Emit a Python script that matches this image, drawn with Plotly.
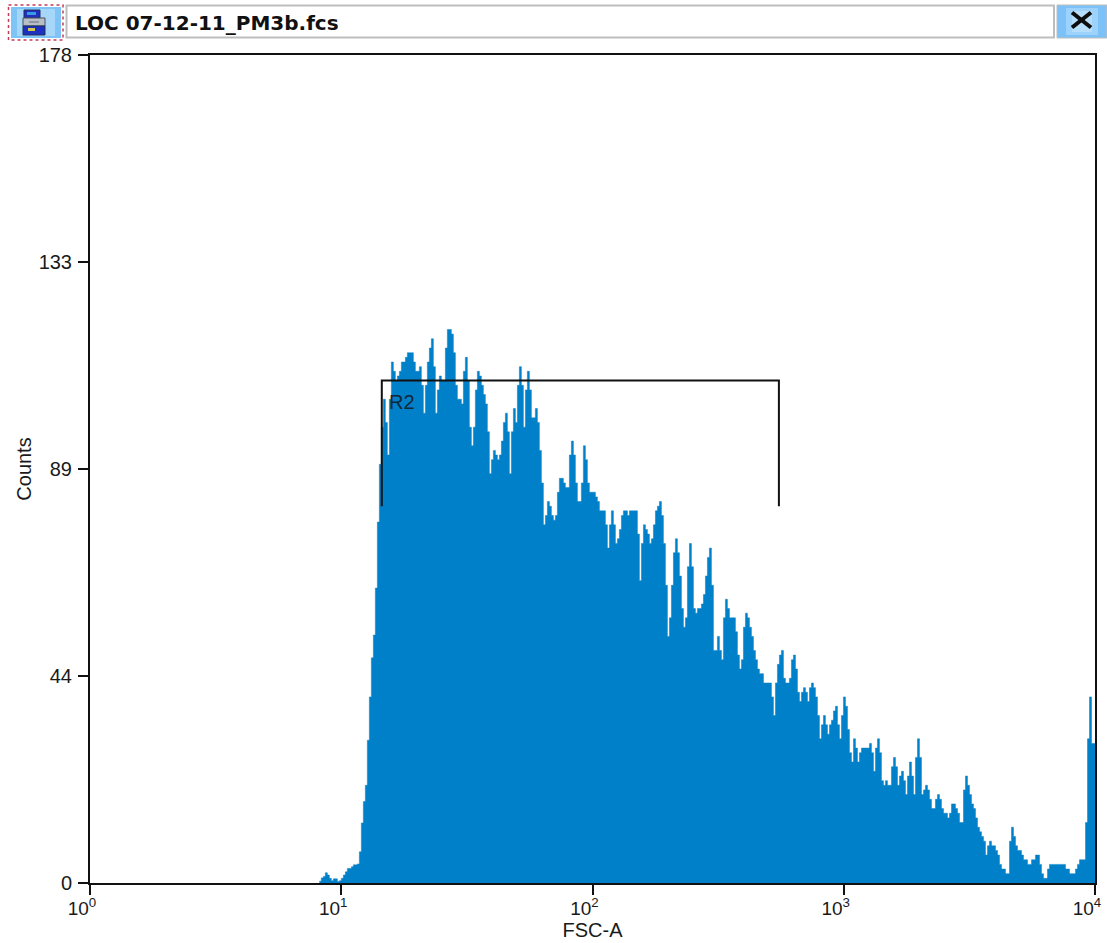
import plotly.graph_objects as go

# Histogram counts, left to right, one value per channel
counts_rise = [0.4, 1.1, 1.4, 2.2, 1.7, 1, 0.5, 0.9, 0.9, 0.3, 0.5, 1, 1.7, 2.4, 3.1, 3.1, 3.5, 3.9, 3.9, 4.1,
               6.7, 12.9, 17.5, 21, 30.7, 40, 48.4, 53.3, 63.4, 77.6]
counts_peak = [90, 98, 104, 99, 92, 104, 112, 110, 108, 109, 110, 112, 112, 113, 114, 114, 114, 112, 110, 110, 111,
               107, 101, 107, 112, 115, 117, 111, 101, 106, 109, 108, 108, 115, 119, 119, 118, 114, 107, 104, 104,
               103, 110, 113, 108, 98, 94, 98, 106, 110, 109, 107, 105, 103, 97, 88, 91, 93, 92, 91, 92,
               95, 99, 101, 97, 88, 97, 102, 99, 107, 111, 107, 98, 106, 110, 106, 100, 100, 102, 99, 93,
               86, 77, 79, 82, 81, 79, 78, 79, 84, 87, 87, 86, 85, 85, 92, 95, 92, 86, 82, 82,
               86, 94, 91, 86, 84, 84, 84, 83, 82, 80, 80, 80, 77]
counts_mid = [72, 77, 80, 77, 73, 74, 76, 79, 80, 80, 79, 80, 80, 80, 80, 75, 65, 73, 77, 76,
              75, 73, 74, 77, 80, 81, 82, 79, 73, 64, 53, 57, 64, 71, 74, 71, 66, 59, 55, 57,
              68, 73, 68, 59, 58, 59, 59, 60, 62, 66, 70, 72, 64, 50, 50, 53, 50, 48, 57, 61,
              59, 57, 57, 57, 54, 49, 46, 48, 55, 58, 57, 55, 53, 50, 48, 46, 45, 45, 43, 43,
              43, 43, 40, 36, 43, 47, 49, 50, 44, 43, 43, 44, 48, 49, 46, 41, 39, 41, 42, 41,
              39, 42, 43, 42, 40, 36, 31, 34, 36, 34, 32, 34, 35, 37, 38, 34, 31, 36, 40, 38]
counts_tail = [33, 28, 26, 31, 29, 26, 28, 29, 29, 29, 29, 30, 28, 24, 29, 31, 28, 22, 21, 22,
               21, 21, 25, 27, 25, 21, 23, 24, 22, 19, 23, 26, 23, 19, 27, 31, 27, 19, 20, 21,
               20, 18, 16, 16, 18, 19, 18, 16, 15, 15, 14, 15, 17, 17, 16, 15, 13, 13, 20, 23,
               21, 19, 17, 16, 14, 12, 11, 10, 9, 6, 8, 9, 8, 8, 7, 6, 4, 3, 3, 2,
               2, 9, 12, 10, 8, 7, 7, 6, 5, 5, 4, 4, 5, 5, 6, 6, 4, 2, 1, 1,
               3, 4, 4, 4, 4, 4, 4, 4, 4, 3, 3, 2, 2, 2, 3, 4, 5, 5, 5, 13,
               31, 40, 30, 30]
counts = counts_rise + counts_peak + counts_mid + counts_tail

first_channel_log = 0.9128   # log10 of FSC-A at the left edge of the first channel
channels_per_decade = 125.6

y_ticks = [0, 44.5, 89, 133.5, 178]
y_labels = ["0", "44", "89", "133", "178"]
x_ticks = [1, 10, 100, 1000, 10000]
x_labels = ["10<sup>0</sup>", "10<sup>1</sup>", "10<sup>2</sup>", "10<sup>3</sup>", "10<sup>4</sup>"]

# Region R2 marker
gate_x = [14.5, 14.5, 552, 552]
gate_y = [81, 108, 108, 81]

file_name = "LOC 07-12-11_PM3b.fcs"

FONT = "Liberation Sans"
TEXT = "#1a1a1a"
BLUE = "#0080C9"

WIDTH, HEIGHT = 1107, 943
LEFT, RIGHT, TOP, BOTTOM = 90, 1095, 55, 883


def px(x):
    return (x - LEFT) / (RIGHT - LEFT)


def py(y):
    return (BOTTOM - y) / (BOTTOM - TOP)


def box(x0, y0, x1, y1, fill=None, line=None, width=0, dash=None):
    # window chrome above the plot, given in page pixels
    return dict(type="rect", xref="paper", yref="paper", x0=px(x0), x1=px(x1), y0=py(y0), y1=py(y1),
                fillcolor=fill or "rgba(0,0,0,0)",
                line=dict(color=line or "rgba(0,0,0,0)", width=width, dash=dash or "solid"))


def stroke(x0, y0, x1, y1, color, width):
    return dict(type="line", xref="paper", yref="paper", x0=px(x0), x1=px(x1), y0=py(y0), y1=py(y1),
                line=dict(color=color, width=width))


edges = [10 ** (first_channel_log + i / channels_per_decade) for i in range(len(counts) + 1)]

fig = go.Figure()

fig.add_trace(go.Scatter(
    x=edges,
    y=counts + [counts[-1]],
    mode="lines",
    line=dict(color=BLUE, width=0.5, shape="hv"),
    fill="tozeroy",
    fillcolor=BLUE,
    hoverinfo="skip",
))

fig.add_trace(go.Scatter(
    x=gate_x,
    y=gate_y,
    mode="lines",
    line=dict(color="#111111", width=2),
    hoverinfo="skip",
))

shapes = [
    # save button
    box(8.5, 5, 63, 40, fill="#FFFFFF", line="#C23B5A", width=1.5, dash="dot"),
    box(11, 7, 61, 38, fill="#7FC4F7"),
    box(17, 9, 55, 36, fill="#A6D7F9"),
    box(24, 10, 40, 18, fill="#1F2FC0", line="#20305A", width=1),
    box(27, 12, 36, 15, fill="#3A9BE0"),
    box(23, 18, 45, 26, fill="#B9BEC6", line="#4A5060", width=1),
    box(29, 21, 39, 23, fill="#8D95A3"),
    box(23, 26, 45, 35, fill="#1F2FC0", line="#20305A", width=1),
    box(28, 28, 35, 31, fill="#D6C84A"),
    # file name box
    box(66.5, 5.5, 1054, 37.5, fill="#FFFFFF", line="#BDBDBD", width=2),
    # close button
    box(1057, 5, 1107, 38, fill="#7CC2F8", line="#BDBDBD", width=1),
    box(1066, 8, 1098, 35, fill="#9DD2FA"),
    box(1072, 11, 1092, 32, fill="#B6DEFB"),
    stroke(1072, 12.5, 1091, 27.5, "#0D0D0D", 4),
    stroke(1091, 12.5, 1072, 27.5, "#0D0D0D", 4),
]

annotations = [
    dict(text=file_name, xref="paper", yref="paper", x=px(73), y=py(23), xanchor="left", yanchor="middle",
         showarrow=False, font=dict(family="DejaVu Sans", size=20, color="#111111", weight="bold")),
    dict(text="R2", xref="x", yref="y", x=1.182, y=103.4, xanchor="left", yanchor="middle",
         showarrow=False, font=dict(family=FONT, size=20, color="#10283A")),
]

fig.update_layout(
    width=WIDTH,
    height=HEIGHT,
    autosize=False,
    margin=dict(l=LEFT, r=WIDTH - RIGHT, t=TOP, b=HEIGHT - BOTTOM, pad=0),
    paper_bgcolor="white",
    plot_bgcolor="white",
    showlegend=False,
    font=dict(family=FONT, size=20, color=TEXT),
    shapes=shapes,
    annotations=annotations,
)

fig.update_xaxes(
    type="log",
    range=[0, 4],
    automargin=False,
    tickmode="array",
    tickvals=x_ticks,
    ticktext=x_labels,
    ticks="outside",
    ticklen=10,
    tickwidth=1.5,
    tickcolor="#111111",
    tickfont=dict(size=19),
    ticklabelstandoff=-3,
    ticklabelshift=-8,
    ticklabeloverflow="allow",
    showgrid=False,
    zeroline=False,
    showline=True,
    linecolor="#111111",
    linewidth=2,
    mirror=True,
    title=dict(text="FSC-A", standoff=0, font=dict(family=FONT, size=20, color=TEXT)),
)
fig.update_yaxes(
    range=[0, 178],
    automargin=False,
    tickmode="array",
    tickvals=y_ticks,
    ticktext=y_labels,
    ticks="outside",
    ticklen=10,
    tickwidth=1.5,
    tickcolor="#111111",
    ticklabelstandoff=2,
    ticklabeloverflow="allow",
    showgrid=False,
    zeroline=False,
    showline=True,
    linecolor="#111111",
    linewidth=2,
    mirror=True,
    title=dict(text="Counts", standoff=2, font=dict(family=FONT, size=20, color=TEXT)),
)

fig.write_html(
    "out.html",
    config=dict(displayModeBar=False),
    post_script="document.documentElement.style.overflow='hidden';document.body.style.margin='0';document.body.style.overflow='hidden';",
)
